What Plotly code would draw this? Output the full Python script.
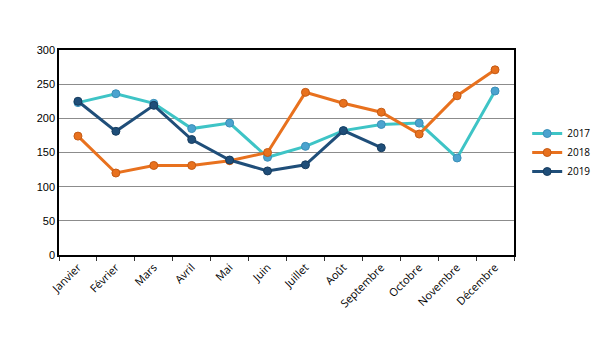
import plotly.graph_objects as go

months = ["Janvier", "Février", "Mars", "Avril", "Mai", "Juin", "Juillet", "Août",
          "Septembre", "Octobre", "Novembre", "Décembre"]
v2017 = [223, 236, 222, 185, 193, 143, 159, 182, 191, 193, 142, 240]
v2018 = [174, 120, 131, 131, 138, 150, 238, 222, 209, 177, 233, 271]
v2019 = [225, 181, 219, 169, 139, 123, 132, 182, 157]

series = [
    ("2017", v2017, "#3EC4C6", "#4BA3CF", "#3A8FB8"),
    ("2018", v2018, "#E8711E", "#E8711E", "#C45A14"),
    ("2019", v2019, "#1F4E79", "#1F4E79", "#173C5E"),
]

fig = go.Figure()
for name, vals, lc, mc, mlc in series:
    fig.add_trace(go.Scatter(
        x=months[:len(vals)], y=vals, name=name, mode="lines+markers",
        line=dict(color=lc, width=3),
        marker=dict(size=8, color=mc, line=dict(color=mlc, width=1)),
    ))

fig.update_layout(
    width=600, height=350,
    margin=dict(l=59, r=86, t=50, b=95, autoexpand=False),
    paper_bgcolor="white", plot_bgcolor="white",
    font=dict(family="Liberation Sans, Arial", size=11, color="black"),
    showlegend=True,
    legend=dict(x=1.029, y=0.5, xanchor="left", yanchor="middle",
                font=dict(family="Open Sans", size=10, color="black"),
                tracegroupgap=4, itemwidth=30, bgcolor="rgba(0,0,0,0)"),
)
fig.update_xaxes(
    type="category", categoryorder="array", categoryarray=months,
    range=[-0.5, len(months) - 0.5],
    tickangle=-45, tickfont=dict(family="Open Sans", size=11, color="black"),
    ticks="outside", tickson="boundaries", ticklen=4, tickcolor="#333",
    showline=True, linecolor="black", linewidth=1.5, mirror=True,
    showgrid=False, automargin=False,
)
fig.update_yaxes(
    range=[0, 300], dtick=50, showgrid=True, gridcolor="#8C8C8C", gridwidth=1,
    showline=True, linecolor="black", linewidth=1.5, mirror=True,
    ticks="", zeroline=False, tickfont=dict(color="black"), automargin=False,
)
fig.write_html("out.html")
